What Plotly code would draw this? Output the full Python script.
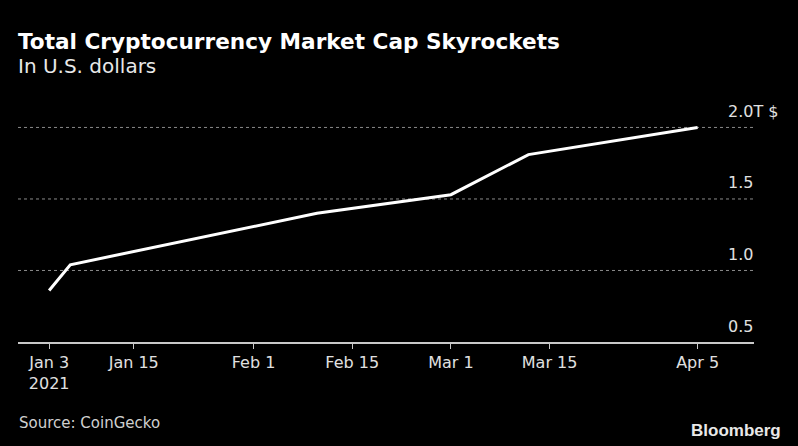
import plotly.graph_objects as go

dates = ["2021-01-03", "2021-01-06", "2021-02-10", "2021-03-01", "2021-03-12", "2021-04-05"]
market_cap = [0.86, 1.04, 1.40, 1.53, 1.81, 2.00]

x_tickvals = ["2021-01-03", "2021-01-15", "2021-02-01", "2021-02-15", "2021-03-01", "2021-03-15", "2021-04-05"]
x_ticktext = ["Jan 3<br>2021", "Jan 15", "Feb 1", "Feb 15", "Mar 1", "Mar 15", "Apr 5"]
y_tickvals = [0.5, 1.0, 1.5, 2.0]
y_ticktext = ["0.5", "1.0", "1.5", "2.0T $"]

FONT = "DejaVu Sans"

fig = go.Figure()
fig.add_trace(go.Scatter(x=dates, y=market_cap, mode="lines",
                         line=dict(color="white", width=3), hoverinfo="skip"))

for v in y_tickvals[1:]:
    fig.add_shape(type="line", xref="paper", yref="y", x0=0, x1=1, y0=v, y1=v,
                  line=dict(color="#8a8a8a", width=1, dash="dot"), layer="below")

for v, t in zip(y_tickvals, y_ticktext):
    fig.add_annotation(xref="paper", yref="y", x=0.9615, y=v, text=t, showarrow=False,
                       xanchor="left", yanchor="middle", yshift=16,
                       font=dict(family=FONT, size=16, color="#e0e0e0"))

fig.add_annotation(xref="paper", yref="paper", x=0, y=0, text="Source: CoinGecko",
                   showarrow=False, xanchor="left", yanchor="middle",
                   xshift=-1, yshift=-81,
                   font=dict(family=FONT, size=15, color="#d0d0d0"))
fig.add_annotation(xref="paper", yref="paper", x=1.0395, y=0, text="<b>Bloomberg</b>",
                   showarrow=False, xanchor="right", yanchor="middle", yshift=-88,
                   font=dict(family="Liberation Sans", size=17, color="#e8e8e8"))

fig.add_annotation(xref="paper", yref="paper", x=0, y=1, text="<b>Total Cryptocurrency Market Cap Skyrockets</b>",
                   showarrow=False, xanchor="left", yanchor="middle", xshift=-2, yshift=69,
                   font=dict(family=FONT, size=21.6, color="white"))
fig.add_annotation(xref="paper", yref="paper", x=0, y=1, text="In U.S. dollars",
                   showarrow=False, xanchor="left", yanchor="middle", xshift=-2, yshift=44,
                   font=dict(family=FONT, size=20, color="#e8e8e8"))

fig.update_layout(
    width=798, height=446,
    paper_bgcolor="black", plot_bgcolor="black",
    margin=dict(l=18, r=44, t=110, b=104),
    showlegend=False,
    xaxis=dict(type="date", range=["2020-12-29 14:00", "2021-04-13"],
               tickvals=x_tickvals, ticktext=x_ticktext,
               showgrid=False, zeroline=False,
               showline=True, linecolor="#c8c8c8", linewidth=1.5,
               ticks="outside", ticklen=5, tickcolor="#c8c8c8", tickwidth=1,
               tickfont=dict(family=FONT, size=16, color="#e0e0e0")),
    yaxis=dict(range=[0.5, 2.122], showgrid=False, zeroline=False,
               showticklabels=False, showline=False),
)

fig.write_html("out.html")
